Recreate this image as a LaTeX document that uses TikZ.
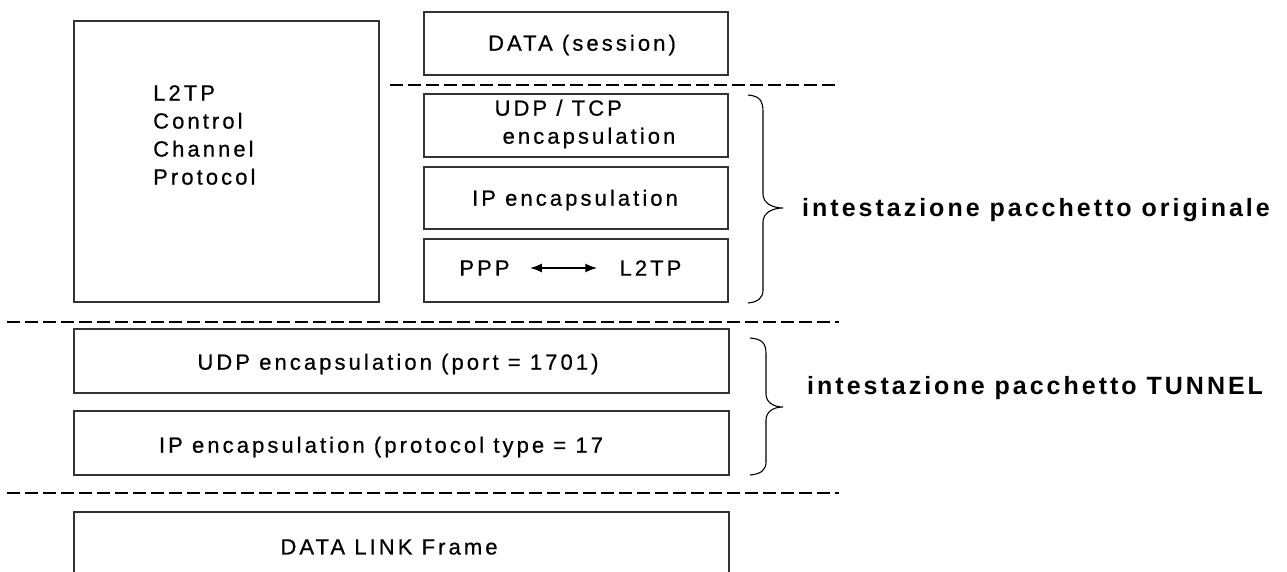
\documentclass[tikz,border=0pt]{standalone}
\usepackage{fontspec}
\setmainfont{Liberation Sans}
\newfontfamily\layerfont[LetterSpace=14,FakeBold=0.6]{Liberation Sans}
\newfontfamily\headfont[LetterSpace=12]{Liberation Sans}
\usetikzlibrary{arrows.meta}
\tikzset{
  layer/.style={draw=black!80, line width=1.2pt, minimum width=304pt, minimum height=63pt, inner sep=0pt, font=\layerfont\fontsize{22}{28}\selectfont},
  wide/.style={layer, minimum width=655pt, minimum height=64pt},
  txt/.style={inner sep=0pt, font=\layerfont\fontsize{22}{28}\selectfont},
  sep/.style={dash pattern=on 13pt off 5pt, line width=2.2pt},
  hdr/.style={line width=1.1pt},
  lbl/.style={inner sep=0pt, anchor=west, font=\headfont\bfseries\fontsize{25}{28}\selectfont}
}

\begin{document}
\begin{tikzpicture}[x=1pt,y=-1pt]
\useasboundingbox (0,0) rectangle (1287,572);
\clip (0,0) rectangle (1287,572);

\node[layer, minimum width=305pt, minimum height=281pt] (ctrl) at (226.5,161.5) {};
\node[txt, anchor=north west, align=left] (ctrltxt) at (153,85) {L2TP\\Control\\Channel\\Protocol};

\node[layer] (data) at (576,43.5) {};
\node[txt] (datatxt) at (582,45) {DATA (session)};
\node[layer] (udptcp) at (576,125.5) {};
\node[txt, align=left] (udptcptxt) at (585,124) {UDP / TCP\\\hspace*{8pt}encapsulation};
\node[layer, minimum height=62pt] (ipenc) at (576,198) {};
\node[txt] (ipenctxt) at (575,200) {IP encapsulation};
\node[layer] (ppp) at (576,270.5) {};
\node[txt] (pppl) at (484.5,268) {PPP};
\node[txt] (l2tpr) at (650.5,268) {L2TP};
\draw[{Latex[length=12pt,width=9pt]}-{Latex[length=12pt,width=9pt]}, line width=2pt, shorten <=20pt, shorten >=22pt] (pppl) -- (l2tpr);

\node[wide] (udp) at (401.5,361) {};
\node[txt] (udptxt) at (398,364) {UDP encapsulation (port = 1701)};
\node[wide] (iplow) at (401.5,443) {};
\node[txt] (iplowtxt) at (381,447) {IP encapsulation (protocol type = 17};
\node[wide, minimum height=70pt] (link) at (401.5,547) {};
\node[txt] (linktxt) at (389,547) {DATA LINK Frame};

\draw[sep] (390,85) -- (839,85);
\draw[sep] (7,322) -- (839,322);
\draw[sep] (7,493) -- (839,493);

\draw[hdr] (748,95) .. controls (760,96) and (763,101) .. (763,112) -- (763,194)
  .. controls (763,203) and (772,208) .. (783,208)
  .. controls (772,208) and (763,213) .. (763,222) -- (763,290)
  .. controls (763,298) and (758,302) .. (748,303);
\draw[hdr] (750,338) .. controls (762,339) and (766,343) .. (766,354) -- (766,394)
  .. controls (766,402) and (773,407) .. (783,407)
  .. controls (773,407) and (766,412) .. (766,420) -- (766,462)
  .. controls (766,470) and (761,474) .. (750,475);
\node[lbl] (orig) at (802,210) {intestazione pacchetto originale};
\node[lbl] (tunnel) at (807,388) {intestazione pacchetto TUNNEL};
\end{tikzpicture}
\end{document}
